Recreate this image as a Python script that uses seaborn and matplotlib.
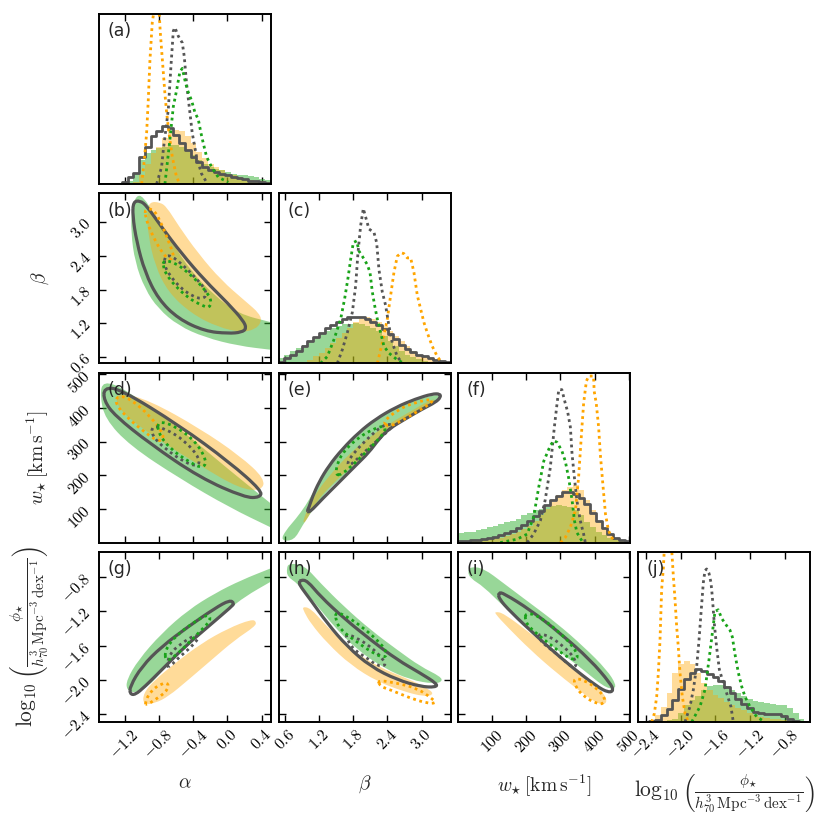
import numpy as np
import pandas as pd
import matplotlib
matplotlib.use("Agg")
import matplotlib.pyplot as plt
from matplotlib.path import Path
from matplotlib.patches import PathPatch
import seaborn as sns

# ---- parameter ranges / ticks -------------------------------------------
alpha_range = [-1.50, 0.51]
beta_range = [0.49, 3.51]
w_range = [0.0, 505.0]
lp_range = [-2.49, -0.51]

alpha_ticks = [-1.2, -0.8, -0.4, 0.0, 0.4]
beta_ticks = [0.6, 1.2, 1.8, 2.4, 3.0]
w_ticks = [100, 200, 300, 400, 500]
lp_ticks = [-2.4, -2.0, -1.6, -1.2, -0.8]

n_bins = 30

# ---- 1D marginals (30 bins over the range, normalised to panel height) ---
hist_alpha_green = [0, 0, 0, 0, 0.005, 0.02, 0.06, 0.14, 0.18, 0.20, 0.21, 0.22, 0.23, 0.23, 0.22,
                    0.20, 0.17, 0.14, 0.12, 0.10, 0.09, 0.08, 0.07, 0.06, 0.055, 0.05, 0.045, 0.04, 0.03, 0.025]
hist_alpha_orange = [0, 0, 0, 0, 0, 0, 0.01, 0.05, 0.12, 0.18, 0.22, 0.27, 0.31, 0.32, 0.31,
                     0.28, 0.24, 0.19, 0.15, 0.12, 0.10, 0.08, 0.06, 0.05, 0.04, 0.03, 0.025, 0.02, 0.015, 0.01]
hist_alpha_grey = [0, 0, 0, 0, 0.01, 0.04, 0.065, 0.16, 0.22, 0.28, 0.31, 0.34, 0.33, 0.29, 0.24,
                   0.20, 0.16, 0.13, 0.10, 0.08, 0.07, 0.06, 0.05, 0.04, 0.035, 0.03, 0.02, 0.015, 0.01, 0.005]

hist_beta_green = [0.03, 0.05, 0.07, 0.09, 0.11, 0.13, 0.15, 0.17, 0.19, 0.21, 0.22, 0.23, 0.23, 0.235, 0.23,
                   0.22, 0.21, 0.19, 0.16, 0.13, 0.10, 0.07, 0.05, 0.035, 0.025, 0.015, 0.01, 0.006, 0.003, 0.001]
hist_beta_orange = [0, 0, 0.003, 0.006, 0.01, 0.02, 0.04, 0.06, 0.09, 0.12, 0.15, 0.18, 0.21, 0.24, 0.26,
                    0.27, 0.26, 0.24, 0.22, 0.19, 0.16, 0.13, 0.10, 0.07, 0.05, 0.035, 0.025, 0.015, 0.01, 0.005]
hist_beta_grey = [0.01, 0.03, 0.05, 0.075, 0.10, 0.13, 0.155, 0.18, 0.205, 0.225, 0.245, 0.26, 0.27, 0.275, 0.27,
                  0.26, 0.245, 0.225, 0.20, 0.17, 0.14, 0.11, 0.085, 0.065, 0.05, 0.04, 0.03, 0.02, 0.012, 0.006]

hist_w_green = [0.055, 0.06, 0.065, 0.075, 0.08, 0.09, 0.10, 0.11, 0.12, 0.13, 0.14, 0.16, 0.175, 0.19, 0.20,
                0.21, 0.215, 0.22, 0.215, 0.21, 0.19, 0.16, 0.12, 0.09, 0.065, 0.045, 0.03, 0.02, 0.01, 0.005]
hist_w_orange = [0.005, 0.007, 0.01, 0.012, 0.015, 0.02, 0.025, 0.03, 0.04, 0.05, 0.065, 0.08, 0.10, 0.13, 0.16,
                 0.20, 0.24, 0.28, 0.31, 0.33, 0.34, 0.31, 0.25, 0.19, 0.13, 0.08, 0.05, 0.03, 0.015, 0.005]
hist_w_grey = [0.01, 0.012, 0.015, 0.018, 0.02, 0.027, 0.035, 0.043, 0.055, 0.07, 0.085, 0.105, 0.13, 0.155, 0.185,
               0.22, 0.25, 0.275, 0.295, 0.30, 0.285, 0.265, 0.225, 0.175, 0.125, 0.085, 0.05, 0.03, 0.015, 0.008]

hist_lp_green = [0, 0, 0, 0, 0.003, 0.01, 0.02, 0.05, 0.10, 0.13, 0.15, 0.19, 0.21, 0.215, 0.22,
                 0.21, 0.19, 0.17, 0.15, 0.135, 0.125, 0.115, 0.11, 0.105, 0.10, 0.10, 0.08, 0.05, 0.02, 0]
hist_lp_orange = [0, 0.003, 0.01, 0.04, 0.09, 0.17, 0.29, 0.34, 0.36, 0.34, 0.29, 0.23, 0.19, 0.16, 0.14,
                  0.12, 0.10, 0.085, 0.07, 0.055, 0.04, 0.03, 0.025, 0.02, 0.015, 0.01, 0.008, 0.005, 0.003, 0]
hist_lp_grey = [0, 0, 0.003, 0.012, 0.04, 0.075, 0.13, 0.195, 0.25, 0.29, 0.31, 0.30, 0.285, 0.265, 0.24,
                0.205, 0.17, 0.135, 0.105, 0.08, 0.06, 0.05, 0.045, 0.045, 0.047, 0.035, 0.015, 0.005, 0, 0]

# dotted (narrow) marginals: (value, height)
dot_alpha_orange = [(-1.001, 0), (-0.970, 0.14), (-0.943, 0.30), (-0.924, 0.49), (-0.904, 0.73), (-0.877, 0.95),
                    (-0.853, 1.03), (-0.799, 1.03), (-0.783, 0.89), (-0.756, 0.71), (-0.729, 0.53), (-0.709, 0.42),
                    (-0.682, 0.30), (-0.643, 0.16), (-0.593, 0.04), (-0.554, 0)]
dot_alpha_grey = [(-0.826, 0), (-0.768, 0.10), (-0.748, 0.20), (-0.690, 0.435), (-0.659, 0.69), (-0.631, 0.90),
                  (-0.612, 0.92), (-0.573, 0.87), (-0.526, 0.83), (-0.503, 0.75), (-0.476, 0.59), (-0.445, 0.455),
                  (-0.410, 0.30), (-0.359, 0.16), (-0.301, 0.06), (-0.242, 0.01)]
dot_alpha_green = [(-0.729, 0), (-0.671, 0.26), (-0.631, 0.455), (-0.593, 0.55), (-0.554, 0.66), (-0.526, 0.68),
                   (-0.495, 0.61), (-0.464, 0.55), (-0.417, 0.49), (-0.378, 0.42), (-0.339, 0.38), (-0.308, 0.30),
                   (-0.281, 0.24), (-0.242, 0.16), (-0.184, 0.10), (-0.106, 0.04), (0.011, 0.01)]

dot_beta_orange = [(2.223, 0), (2.310, 0.12), (2.398, 0.26), (2.457, 0.40), (2.515, 0.535), (2.574, 0.63),
                   (2.644, 0.65), (2.691, 0.645), (2.749, 0.62), (2.808, 0.62), (2.866, 0.535), (2.925, 0.40),
                   (2.983, 0.32), (3.042, 0.24), (3.100, 0.18), (3.188, 0.10), (3.276, 0.04), (3.364, 0)]
dot_beta_grey = [(1.520, 0), (1.608, 0.08), (1.696, 0.18), (1.784, 0.30), (1.842, 0.455), (1.883, 0.65),
                 (1.930, 0.81), (1.977, 0.91), (2.018, 0.86), (2.076, 0.79), (2.164, 0.77), (2.211, 0.71),
                 (2.252, 0.55), (2.310, 0.42), (2.369, 0.34), (2.427, 0.22), (2.486, 0.12), (2.574, 0.04), (2.661, 0)]
dot_beta_green = [(1.227, 0), (1.345, 0.04), (1.462, 0.14), (1.579, 0.26), (1.649, 0.38), (1.707, 0.50),
                  (1.754, 0.61), (1.801, 0.71), (1.860, 0.72), (1.901, 0.66), (1.959, 0.63), (2.047, 0.58),
                  (2.094, 0.535), (2.135, 0.42), (2.176, 0.34), (2.223, 0.26), (2.281, 0.18), (2.340, 0.10),
                  (2.427, 0.06), (2.574, 0.02), (2.691, 0)]

dot_w_orange = [(300, 0), (314, 0.03), (329, 0.09), (344, 0.19), (353, 0.38), (363, 0.68), (368, 0.82),
                (376, 0.95), (383, 0.98), (397, 0.98), (399, 0.89), (405, 0.82), (412, 0.68), (417, 0.52),
                (425, 0.33), (432, 0.17), (441, 0.07), (456, 0.01)]
dot_w_grey = [(202, 0), (221, 0.05), (241, 0.13), (255, 0.25), (270, 0.44), (282, 0.68), (290, 0.82),
              (295, 0.90), (304, 0.90), (314, 0.82), (321, 0.77), (329, 0.68), (334, 0.52), (341, 0.38),
              (348, 0.25), (358, 0.13), (368, 0.05), (373, 0)]
dot_w_green = [(123, 0), (172, 0.02), (202, 0.05), (221, 0.15), (236, 0.325), (251, 0.48), (270, 0.57),
               (280, 0.60), (290, 0.59), (304, 0.54), (314, 0.48), (324, 0.38), (334, 0.25), (341, 0.13),
               (348, 0.06), (363, 0.01)]

dot_lp_orange = [(-2.333, 0), (-2.302, 0.05), (-2.275, 0.15), (-2.256, 0.29), (-2.237, 0.48), (-2.218, 0.78),
                 (-2.198, 0.91), (-2.187, 1.02), (-2.103, 1.02), (-2.083, 0.855), (-2.064, 0.72), (-2.045, 0.56),
                 (-2.026, 0.44), (-2.007, 0.29), (-1.980, 0.15), (-1.949, 0.05), (-1.911, 0)]
dot_lp_grey = [(-1.949, 0), (-1.892, 0.09), (-1.853, 0.19), (-1.815, 0.325), (-1.788, 0.48), (-1.765, 0.64),
               (-1.738, 0.82), (-1.719, 0.89), (-1.700, 0.90), (-1.673, 0.875), (-1.650, 0.82), (-1.635, 0.74),
               (-1.612, 0.58), (-1.585, 0.44), (-1.554, 0.31), (-1.520, 0.25), (-1.470, 0.17), (-1.420, 0.09),
               (-1.393, 0)]
dot_lp_green = [(-1.872, 0), (-1.777, 0.09), (-1.719, 0.19), (-1.673, 0.365), (-1.635, 0.52), (-1.604, 0.65),
                (-1.566, 0.66), (-1.527, 0.61), (-1.489, 0.58), (-1.431, 0.54), (-1.404, 0.50), (-1.374, 0.40),
                (-1.335, 0.29), (-1.297, 0.21), (-1.259, 0.15), (-1.201, 0.09), (-1.124, 0.03), (-1.029, 0)]

# ---- 2D credible regions (outline vertices, x then y) -------------------
# alpha - beta
ab_green = [(-1.060, 3.48), (-0.982, 3.45), (-0.846, 3.12), (-0.651, 2.65), (-0.417, 2.11), (-0.145, 1.69),
            (0.128, 1.37), (0.51, 1.22), (0.51, 1.22), (0.51, 0.73), (0.51, 0.73), (0.128, 0.80), (-0.262, 0.95),
            (-0.573, 1.16), (-0.807, 1.46), (-0.963, 1.81), (-1.079, 2.29), (-1.126, 2.82), (-1.118, 3.24)]
ab_orange = [(-0.904, 3.36), (-0.787, 3.35), (-0.709, 3.27), (-0.573, 2.94), (-0.339, 2.44), (-0.067, 1.96),
             (0.206, 1.60), (0.381, 1.37), (0.400, 1.22), (0.322, 1.09), (0.167, 1.04), (-0.106, 1.13),
             (-0.417, 1.37), (-0.690, 1.75), (-0.846, 2.23), (-0.924, 2.77), (-0.943, 3.18)]
ab_grey = [(-1.099, 3.36), (-1.021, 3.38), (-0.943, 3.29), (-0.768, 2.91), (-0.534, 2.44), (-0.262, 1.96),
           (0.011, 1.55), (0.186, 1.25), (0.225, 1.11), (0.167, 1.04), (0.011, 1.02), (-0.262, 1.06),
           (-0.573, 1.28), (-0.807, 1.63), (-0.963, 2.11), (-1.060, 2.65), (-1.107, 3.12)]
ab_dot_orange = [(-0.963, 3.23), (-0.865, 3.23), (-0.787, 3.03), (-0.709, 2.74), (-0.631, 2.44), (-0.631, 2.35),
                 (-0.690, 2.34), (-0.768, 2.47), (-0.846, 2.68), (-0.916, 2.91), (-0.955, 3.09)]
ab_dot_grey = [(-0.729, 2.40), (-0.651, 2.40), (-0.515, 2.23), (-0.378, 2.02), (-0.262, 1.82), (-0.242, 1.69),
               (-0.301, 1.63), (-0.417, 1.69), (-0.554, 1.84), (-0.671, 2.05), (-0.737, 2.23)]
ab_dot_green = [(-0.748, 2.32), (-0.612, 2.28), (-0.456, 2.10), (-0.301, 1.87), (-0.184, 1.63), (-0.203, 1.47),
                (-0.301, 1.52), (-0.456, 1.65), (-0.612, 1.87), (-0.709, 2.06), (-0.748, 2.20)]

# alpha - w
aw_green = [(-1.453, 481), (-1.196, 457), (-0.554, 339), (0.030, 214), (0.51, 116), (0.51, 116), (0.51, 45),
            (0.51, 45), (0.030, 104), (-0.554, 190), (-1.138, 288), (-1.430, 368), (-1.488, 437)]
aw_orange = [(-1.255, 446), (-0.904, 422), (-0.320, 339), (0.147, 258), (0.439, 190), (0.404, 154), (0.147, 160),
             (-0.320, 229), (-0.787, 303), (-1.196, 377), (-1.313, 422)]
aw_grey = [(-1.442, 460), (-1.255, 457), (-0.554, 347), (0.030, 238), (0.404, 154), (0.381, 134), (0.206, 134),
           (-0.320, 193), (-0.904, 294), (-1.313, 377), (-1.442, 422)]
aw_dot_orange = [(-1.278, 437), (-1.138, 428), (-0.904, 377), (-0.729, 318), (-0.787, 297), (-0.962, 327),
                 (-1.196, 377), (-1.313, 416)]
aw_dot_grey = [(-0.881, 347), (-0.729, 339), (-0.495, 303), (-0.320, 250), (-0.343, 226), (-0.495, 238),
               (-0.729, 279), (-0.881, 318)]
aw_dot_green = [(-0.811, 362), (-0.612, 347), (-0.378, 303), (-0.238, 244), (-0.285, 220), (-0.437, 238),
                (-0.671, 279), (-0.811, 327)]

# beta - w
bw_green = [(0.525, 6), (0.613, 36), (0.789, 70), (0.964, 110), (1.081, 145), (1.227, 184), (1.374, 229),
            (1.608, 278), (1.901, 328), (2.222, 368), (2.544, 399), (2.896, 424), (3.188, 437), (3.305, 439),
            (3.305, 429), (3.188, 415), (2.954, 392), (2.661, 362), (2.369, 328), (2.135, 283), (1.901, 239),
            (1.608, 194), (1.374, 160), (1.140, 110), (0.906, 51), (0.759, 6)]
bw_orange = [(0.906, 60), (1.023, 110), (1.198, 160), (1.432, 209), (1.725, 263), (2.076, 313), (2.427, 353),
             (2.779, 387), (3.130, 422), (3.247, 427), (3.188, 412), (2.896, 387), (2.544, 353), (2.252, 313),
             (2.018, 263), (1.725, 219), (1.432, 174), (1.140, 120), (0.964, 60)]
bw_grey = [(0.993, 95), (1.023, 105), (1.081, 135), (1.198, 180), (1.374, 229), (1.608, 278), (1.901, 328),
           (2.193, 367), (2.544, 402), (2.896, 427), (3.188, 442), (3.323, 442), (3.335, 432), (3.247, 417),
           (3.013, 397), (2.720, 368), (2.427, 338), (2.252, 308), (2.076, 268), (1.842, 229), (1.549, 179),
           (1.257, 130), (1.081, 98), (1.011, 90)]
bw_dot_orange = [(2.310, 358), (2.603, 397), (2.896, 417), (3.188, 427), (3.188, 417), (2.954, 392),
                 (2.661, 363), (2.427, 343)]
bw_dot_grey = [(1.696, 239), (1.842, 273), (2.076, 313), (2.310, 348), (2.486, 353), (2.457, 338),
               (2.252, 308), (2.018, 273), (1.813, 239), (1.725, 229)]
bw_dot_green = [(1.491, 199), (1.520, 239), (1.666, 278), (1.901, 313), (2.135, 336), (2.340, 348),
                (2.369, 333), (2.222, 303), (2.018, 268), (1.813, 234), (1.608, 204)]

# alpha - log phi
al_green = [(-1.177, -2.000), (-1.040, -1.767), (-0.768, -1.457), (-0.456, -1.185), (-0.145, -0.991),
            (0.167, -0.836), (0.51, -0.700), (0.51, -0.700), (0.51, -0.855), (0.51, -0.855), (0.205, -1.030),
            (0.011, -1.185), (-0.262, -1.418), (-0.534, -1.670), (-0.768, -1.903), (-0.924, -2.078),
            (-1.079, -2.155), (-1.177, -2.117)]
al_orange = [(-0.982, -2.155), (-0.846, -2.000), (-0.612, -1.806), (-0.301, -1.573), (0.011, -1.399),
             (0.283, -1.294), (0.342, -1.321), (0.322, -1.379), (0.089, -1.534), (-0.184, -1.767),
             (-0.456, -2.000), (-0.690, -2.194), (-0.846, -2.272), (-0.982, -2.291)]
al_grey = [(-1.138, -2.078), (-1.001, -1.845), (-0.768, -1.612), (-0.456, -1.379), (-0.145, -1.166),
           (0.030, -1.069), (0.081, -1.108), (0.050, -1.146), (-0.223, -1.379), (-0.495, -1.612),
           (-0.768, -1.884), (-0.963, -2.078), (-1.079, -2.175), (-1.138, -2.163)]
al_dot_orange = [(-0.963, -2.272), (-0.904, -2.136), (-0.768, -2.039), (-0.682, -2.039), (-0.709, -2.136),
                 (-0.846, -2.233), (-0.943, -2.291)]
al_dot_grey = [(-0.709, -1.845), (-0.671, -1.690), (-0.534, -1.573), (-0.378, -1.476), (-0.320, -1.496),
               (-0.417, -1.612), (-0.554, -1.728), (-0.671, -1.845)]
al_dot_green = [(-0.729, -1.651), (-0.593, -1.476), (-0.378, -1.321), (-0.223, -1.232), (-0.191, -1.302),
                (-0.301, -1.418), (-0.456, -1.573), (-0.612, -1.728), (-0.721, -1.787)]

# beta - log phi
bl_green = [(0.671, -0.642), (0.935, -0.661), (1.227, -0.875), (1.637, -1.146), (2.105, -1.418),
            (2.574, -1.651), (2.983, -1.845), (3.335, -1.961), (3.364, -2.020), (3.218, -2.047),
            (2.808, -2.000), (2.340, -1.864), (1.871, -1.651), (1.462, -1.379), (1.110, -1.088),
            (0.818, -0.875), (0.642, -0.797), (0.630, -0.700)]
bl_orange = [(0.906, -1.146), (1.052, -1.166), (1.286, -1.341), (1.696, -1.612), (2.223, -1.845),
             (2.808, -2.000), (3.159, -2.117), (3.206, -2.175), (3.042, -2.194), (2.691, -2.136),
             (2.223, -2.020), (1.754, -1.826), (1.345, -1.573), (1.052, -1.341), (0.935, -1.205)]
bl_grey = [(0.876, -0.836), (0.993, -0.844), (1.227, -1.030), (1.637, -1.282), (2.105, -1.534),
           (2.574, -1.767), (2.983, -1.923), (3.276, -2.047), (3.247, -2.086), (2.983, -2.078),
           (2.574, -2.000), (2.105, -1.845), (1.696, -1.612), (1.345, -1.341), (1.052, -1.069),
           (0.876, -0.914), (0.847, -0.867)]
bl_dot_orange = [(2.223, -2.000), (2.574, -2.039), (2.925, -2.097), (3.218, -2.233), (3.247, -2.272),
                 (3.100, -2.272), (2.808, -2.214), (2.457, -2.117), (2.281, -2.078)]
bl_dot_grey = [(1.666, -1.457), (1.871, -1.515), (2.105, -1.612), (2.340, -1.767), (2.369, -1.837),
               (2.223, -1.837), (2.047, -1.748), (1.813, -1.651), (1.696, -1.534)]
bl_dot_green = [(1.491, -1.205), (1.696, -1.263), (1.988, -1.399), (2.281, -1.573), (2.398, -1.690),
                (2.340, -1.748), (2.105, -1.670), (1.813, -1.534), (1.579, -1.418), (1.491, -1.302)]

# w - log phi
wl_green = [(35.2, -0.681), (74.4, -0.700), (133.1, -0.875), (211.4, -1.108), (289.7, -1.341), (368.0, -1.612),
            (436.5, -1.884), (463.9, -2.058), (456.1, -2.109), (426.7, -2.078), (368.0, -1.884),
            (289.7, -1.651), (211.4, -1.418), (133.1, -1.146), (74.4, -0.914), (35.2, -0.817), (27.4, -0.739)]
wl_orange = [(108.6, -1.205), (133.1, -1.224), (211.4, -1.457), (299.5, -1.728), (387.6, -2.000),
             (431.6, -2.175), (436.5, -2.272), (416.9, -2.291), (377.8, -2.194), (289.7, -1.923),
             (211.4, -1.651), (142.9, -1.379), (108.6, -1.232)]
wl_grey = [(118.4, -0.983), (133.1, -0.991), (211.4, -1.185), (299.5, -1.457), (387.6, -1.767), (446.3, -2.039),
           (456.1, -2.124), (441.4, -2.148), (407.1, -2.078), (319.0, -1.806), (231.0, -1.496),
           (152.7, -1.205), (118.4, -1.049)]
wl_dot_orange = [(338.6, -1.981), (368.0, -2.000), (407.1, -2.097), (431.6, -2.214), (426.7, -2.279),
                 (407.1, -2.279), (368.0, -2.194), (343.5, -2.078)]
wl_dot_grey = [(235.9, -1.457), (270.1, -1.496), (309.3, -1.612), (338.6, -1.728), (348.4, -1.845),
               (328.8, -1.845), (299.5, -1.728), (260.3, -1.612), (238.8, -1.534)]
wl_dot_green = [(196.7, -1.224), (231.0, -1.243), (289.7, -1.418), (338.6, -1.612), (353.3, -1.748),
                (333.7, -1.767), (289.7, -1.651), (240.7, -1.496), (206.5, -1.379), (196.7, -1.302)]

# ---- style ---------------------------------------------------------------
sns.set_style("ticks")
plt.rcParams["font.family"] = ["DejaVu Sans"]
plt.rcParams["mathtext.fontset"] = "cm"

green_fill = "#33b033"
orange_fill = "#ffa500"
grey_line = "#555555"
green_dot = "#19a319"
orange_dot = "#ffa500"
dot_style = (0, (1, 1.3))

labels = [r"$\alpha$", r"$\beta$", r"$w_{\star}\,[\mathrm{km\,s^{-1}}]$",
          r"$\log_{10}\left(\frac{\phi_{\star}}{h_{70}^{3}\,\mathrm{Mpc^{-3}\,dex^{-1}}}\right)$"]
label_sizes = [14, 14, 14, 15.5]
ranges = [alpha_range, beta_range, w_range, lp_range]
ticks = [alpha_ticks, beta_ticks, w_ticks, lp_ticks]
fmts = ["${:.1f}$", "${:.1f}$", "${:.0f}$", "${:.1f}$"]

diag = {
    0: (hist_alpha_green, hist_alpha_orange, hist_alpha_grey, dot_alpha_orange, dot_alpha_grey, dot_alpha_green),
    1: (hist_beta_green, hist_beta_orange, hist_beta_grey, dot_beta_orange, dot_beta_grey, dot_beta_green),
    2: (hist_w_green, hist_w_orange, hist_w_grey, dot_w_orange, dot_w_grey, dot_w_green),
    3: (hist_lp_green, hist_lp_orange, hist_lp_grey, dot_lp_orange, dot_lp_grey, dot_lp_green),
}
pairs = {
    (1, 0): (ab_green, ab_orange, ab_grey, ab_dot_orange, ab_dot_grey, ab_dot_green),
    (2, 0): (aw_green, aw_orange, aw_grey, aw_dot_orange, aw_dot_grey, aw_dot_green),
    (2, 1): (bw_green, bw_orange, bw_grey, bw_dot_orange, bw_dot_grey, bw_dot_green),
    (3, 0): (al_green, al_orange, al_grey, al_dot_orange, al_dot_grey, al_dot_green),
    (3, 1): (bl_green, bl_orange, bl_grey, bl_dot_orange, bl_dot_grey, bl_dot_green),
    (3, 2): (wl_green, wl_orange, wl_grey, wl_dot_orange, wl_dot_grey, wl_dot_green),
}
letters = {(0, 0): "a", (1, 0): "b", (1, 1): "c", (2, 0): "d", (2, 1): "e", (2, 2): "f",
           (3, 0): "g", (3, 1): "h", (3, 2): "i", (3, 3): "j"}


def smooth_path(pts):
    # closed quadratic Bezier through edge midpoints, outline points as controls
    p = np.asarray(pts, dtype=float)
    mid = 0.5 * (p + np.roll(p, -1, axis=0))
    verts = [mid[-1]]
    codes = [Path.MOVETO]
    for k in range(len(p)):
        verts += [p[k], mid[k]]
        codes += [Path.CURVE3, Path.CURVE3]
    return Path(verts, codes)


fig = plt.figure(figsize=(8.31, 8.22), dpi=100)
gs = fig.add_gridspec(4, 4, left=0.1191, right=0.9747, top=0.983, bottom=0.1217,
                      wspace=0.045, hspace=0.055)

for i in range(4):
    for j in range(4):
        if j > i:
            continue
        ax = fig.add_subplot(gs[i, j])
        if i == j:
            g, o, k, do, dk, dg = diag[i]
            edges = np.linspace(ranges[i][0], ranges[i][1], n_bins + 1)
            df = pd.DataFrame({"x": 0.5 * (edges[:-1] + edges[1:]), "g": g, "o": o, "k": k})
            brange = (ranges[i][0], ranges[i][1])
            sns.histplot(data=df, x="x", weights="g", bins=n_bins, binrange=brange, element="step",
                         fill=True, color=green_fill, alpha=0.5, linewidth=0, ax=ax)
            sns.histplot(data=df, x="x", weights="o", bins=n_bins, binrange=brange, element="step",
                         fill=True, color=orange_fill, alpha=0.4, linewidth=0, ax=ax)
            sns.histplot(data=df, x="x", weights="k", bins=n_bins, binrange=brange, element="step",
                         fill=False, color=grey_line, linewidth=2, ax=ax)
            for pts, c in ((do, orange_dot), (dk, grey_line), (dg, green_dot)):
                ax.plot([p[0] for p in pts], [p[1] for p in pts], ls=dot_style, color=c, lw=2.0)
            ax.set_ylim(0, 1.0)
            ax.set_yticks([])
            ax.set_xlim(ranges[j])
        else:
            g, o, k, do, dk, dg = pairs[(i, j)]
            ax.add_patch(PathPatch(smooth_path(g), facecolor=green_fill, alpha=0.5, lw=0))
            ax.add_patch(PathPatch(smooth_path(o), facecolor=orange_fill, alpha=0.4, lw=0))
            ax.add_patch(PathPatch(smooth_path(k), facecolor="none", edgecolor=grey_line, lw=2.3))
            for pts, c in ((do, orange_dot), (dk, grey_line), (dg, green_dot)):
                ax.add_patch(PathPatch(smooth_path(pts), facecolor="none", edgecolor=c,
                                       lw=2.0, ls=dot_style))
            ax.set_xlim(ranges[j])
            ax.set_ylim(ranges[i])
            ax.set_yticks(ticks[i])
        ax.set_xticks(ticks[j])
        ax.set_xlabel("")
        ax.set_ylabel("")
        ax.tick_params(direction="in", top=True, right=(i != j), length=5, width=1,
                       labelsize=11.5, colors="black")
        for sp in ax.spines.values():
            sp.set_linewidth(1.4)
            sp.set_color("black")
            sp.set_visible(True)

        if i == 3:
            ax.set_xticklabels([fmts[j].format(t) for t in ticks[j]], rotation=45)
            ax.set_xlabel(labels[j], fontsize=label_sizes[j])
            ax.xaxis.set_label_coords(0.5, -0.3)
        else:
            ax.set_xticklabels([])
        if j == 0 and i > 0:
            ax.set_yticklabels([fmts[i].format(t) for t in ticks[i]], rotation=45)
            ax.set_ylabel(labels[i], fontsize=label_sizes[i])
            ax.yaxis.set_label_coords(-0.28, 0.5)
        elif i != j:
            ax.set_yticklabels([])

        ax.text(0.05, 0.95, "(" + letters[(i, j)] + ")", transform=ax.transAxes,
                ha="left", va="top", fontsize=12.5)

fig.savefig("out.png", dpi=100)
